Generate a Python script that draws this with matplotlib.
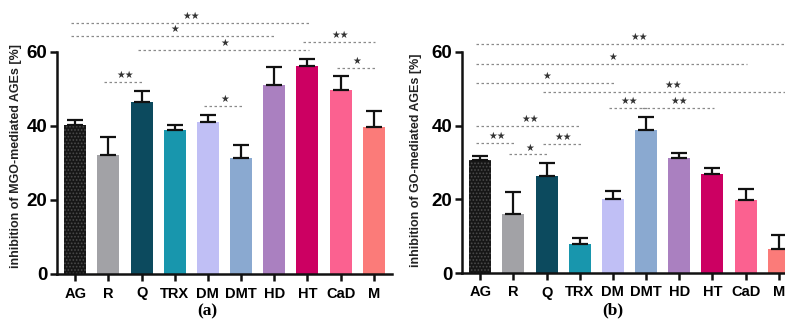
import numpy as np
import matplotlib
matplotlib.use("Agg")
import matplotlib.pyplot as plt

plt.rcParams['font.family'] = ['Liberation Sans', 'DejaVu Sans']
plt.rcParams['hatch.linewidth'] = 0.8

# --- data ---
labels = ['AG', 'R', 'Q', 'TRX', 'DM', 'DMT', 'HD', 'HT', 'CaD', 'M']
colors = ['#161616', '#a2a2a6', '#0c4a5e', '#1896ad', '#c0bff5',
          '#8aa9d0', '#aa80c0', '#cc0062', '#fb6190', '#fb7b79']

mgo_mean = [40.3, 32.2, 46.5, 38.9, 41.0, 31.4, 51.1, 56.2, 49.6, 39.8]
mgo_err = [1.3, 4.8, 3.0, 1.3, 2.0, 3.6, 4.9, 2.0, 3.9, 4.2]

go_mean = [30.8, 16.0, 26.2, 7.8, 20.0, 38.9, 31.3, 26.8, 19.9, 6.4]
go_err = [1.1, 6.0, 3.8, 1.7, 2.2, 3.5, 1.3, 1.6, 3.0, 4.0]

# significance comparisons: (first, second, level, mark)
mgo_sig = [(0, 7, 67.8, '★★'), (0, 6, 64.3, '★'), (2, 7, 60.5, '★'),
           (7, 9, 62.7, '★★'), (8, 9, 55.7, '★'), (1, 2, 51.9, '★★'),
           (4, 5, 45.4, '★')]
go_sig = [(0, 9.6, 62.2, '★★'), (0, 8, 56.8, '★'), (0, 4, 51.6, '★'),
          (2, 9.6, 49.2, '★★'), (4, 5, 44.9, '★★'), (5, 7, 44.9, '★★'),
          (0, 3, 40.0, '★★'), (0, 1, 35.4, '★★'), (1, 2, 32.2, '★'),
          (2, 3, 35.1, '★★')]


def draw_panel(ax, means, errs, sig, ylabel, caption):
    x = np.arange(len(labels))
    bars = ax.bar(x, means, width=0.66, color=colors, linewidth=0, zorder=2)
    bars[0].set_hatch('.....')
    bars[0].set_edgecolor('#4a4a4a')
    ax.errorbar(x, means, yerr=[np.zeros(len(x)), errs], fmt='none',
                ecolor='#111111', elinewidth=1.6, capsize=5.5, capthick=1.6,
                zorder=3)

    for a, b, lvl, mark in sig:
        ax.plot([a - 0.12, b + 0.05], [lvl, lvl], color='#8a8a8a', lw=0.9,
                ls=(0, (2, 2)), clip_on=False, zorder=4)
        ax.text((a + b) / 2, lvl + 0.5, mark, ha='center', va='bottom',
                fontsize=7, color='#333333', family='DejaVu Sans',
                clip_on=False)

    ax.set_xlim(-0.55, 9.55)
    ax.set_ylim(0, 60)
    ax.set_yticks([0, 20, 40, 60])
    ax.set_xticks(x)
    ax.set_xticklabels(labels, fontsize=10.5, fontweight='bold')
    for t in ax.get_yticklabels():
        t.set_fontsize(13.5)
        t.set_fontweight('bold')
    ax.tick_params(axis='both', direction='out', length=5, width=1.8,
                   color='#111111', pad=2)
    ax.tick_params(axis='x', pad=4)
    for s in ['top', 'right']:
        ax.spines[s].set_visible(False)
    for s in ['left', 'bottom']:
        ax.spines[s].set_linewidth(1.8)
        ax.spines[s].set_color('#111111')
    ax.set_ylabel(ylabel, fontsize=9, fontweight='bold', color='#222222')
    ax.text(0.45, -0.17, caption, transform=ax.transAxes, ha='center',
            va='center', fontsize=12.5, fontweight='bold',
            family='Liberation Serif')


fig = plt.figure(figsize=(7.85, 3.22), dpi=100)
ax1 = fig.add_axes([57 / 785, 48 / 322, 335 / 785, 222 / 322])
ax2 = fig.add_axes([462 / 785, 49 / 322, 335 / 785, 221 / 322])

draw_panel(ax1, mgo_mean, mgo_err, mgo_sig,
           'inhibition of MGO-mediated AGEs [%]', '(a)')
draw_panel(ax2, go_mean, go_err, go_sig,
           'inhibition of GO-mediated AGEs [%]', '(b)')
ax1.yaxis.set_label_coords(-0.105, 0.53)
ax2.yaxis.set_label_coords(-0.12, 0.51)

fig.savefig('out.png', dpi=100)
